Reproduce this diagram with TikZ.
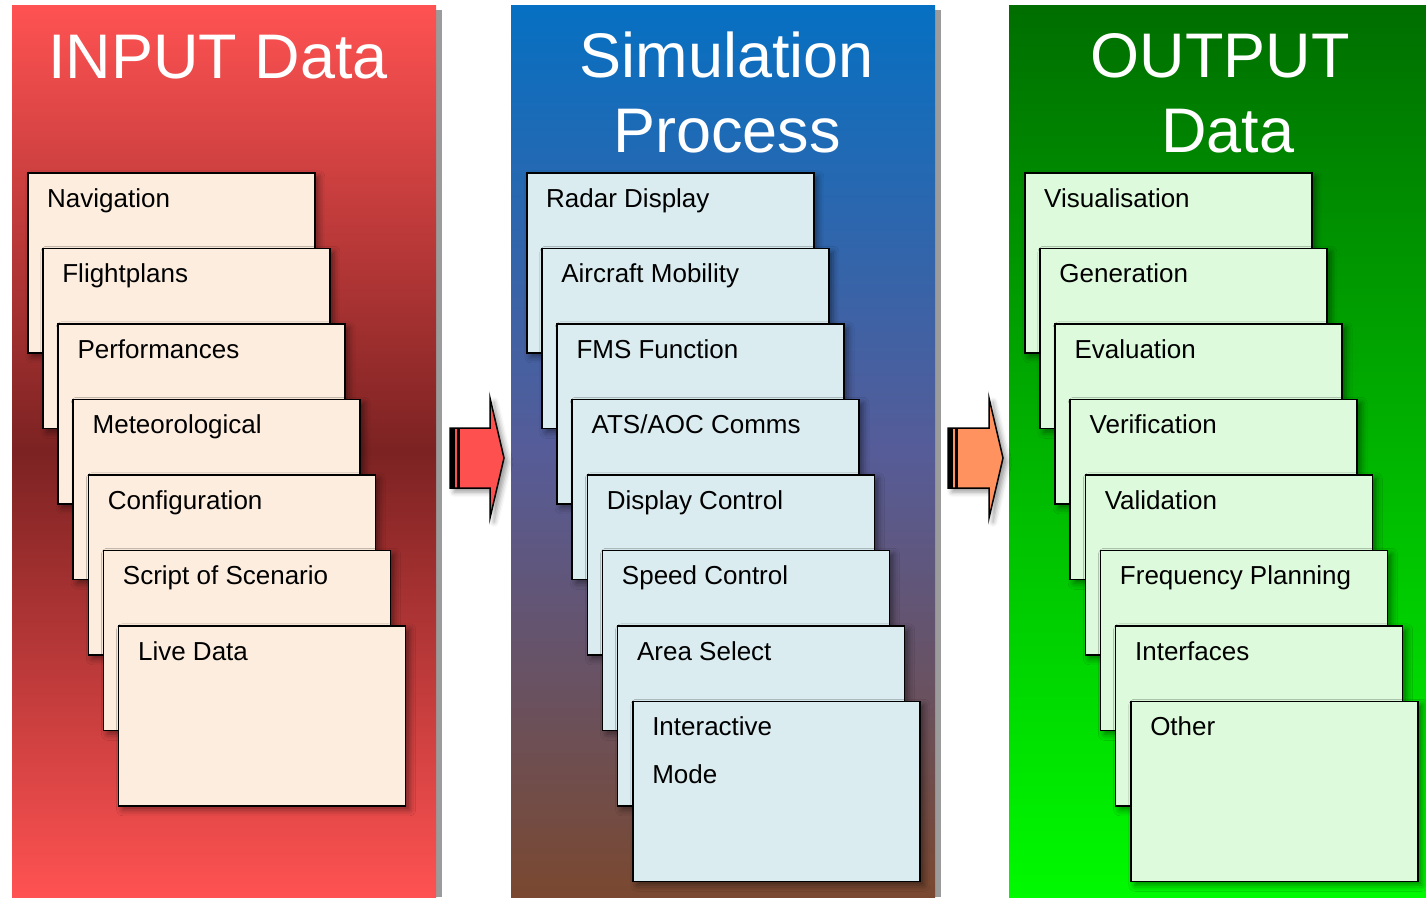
\documentclass[tikz,border=0pt]{standalone}
\usepackage{fontspec}
\setmainfont{Liberation Sans}
\usepackage{tikz}
\usetikzlibrary{shadows.blur}

\definecolor{inputtop}{RGB}{255,82,82}
\definecolor{inputmid}{RGB}{124,34,34}
\definecolor{simtop}{RGB}{6,112,194}
\definecolor{simmid}{RGB}{86,92,152}
\definecolor{simbottom}{RGB}{122,72,48}
\definecolor{outtop}{RGB}{0,110,0}
\definecolor{outbottom}{RGB}{0,250,0}
\definecolor{incardfill}{RGB}{253,237,222}
\definecolor{simcardfill}{RGB}{218,236,240}
\definecolor{outcardfill}{RGB}{221,250,221}
\definecolor{inarrowfill}{RGB}{255,80,80}
\definecolor{outarrowfill}{RGB}{255,146,94}
\definecolor{panelshade}{RGB}{155,155,155}

\tikzset{
  card/.style={draw=black, line width=1.5pt, minimum width=287pt, minimum height=180pt,
    anchor=north west, inner sep=0pt,
    blur shadow={shadow xshift=4pt, shadow yshift=-4pt, shadow blur radius=6pt, shadow opacity=45}},
  cardtext/.style={anchor=base west, inner sep=0pt, text=black, font=\fontsize{26}{30}\selectfont},
  paneltitle/.style={anchor=base, inner sep=0pt, text=white, font=\fontsize{63}{75}\selectfont},
  bigarrow/.style={draw=black, line width=1.5pt, line join=miter,
    blur shadow={shadow xshift=4pt, shadow yshift=-4pt, shadow blur radius=5pt, shadow opacity=40}}
}

\begin{document}
\begin{tikzpicture}[x=1pt, y=-1pt]
    \useasboundingbox (0,0) rectangle (1426,897);

    % Panels
    \fill[panelshade] (436,10) rectangle (442,897);
    \fill[panelshade] (935,10) rectangle (941,897);
    \shade[top color=inputtop, bottom color=inputtop, middle color=inputmid] (12,5) rectangle (436,897);
    \shade[top color=simtop, bottom color=simbottom, middle color=simmid] (511,5) rectangle (935,897);
    \shade[top color=outtop, bottom color=outbottom] (1009,5) rectangle (1426,897);

    % Titles
    \node[paneltitle] (inT) at (218,78) {INPUT Data};
    \node[paneltitle] (simT) at (727,77) {Simulation};
    \node[paneltitle] (simTb) at (727,152) {Process};
    \node[paneltitle] (outT) at (1220,77) {OUTPUT};
    \node[paneltitle] (outTb) at (1228,152) {Data};

    % Input cards
    \foreach \lbl [count=\i from 0] in {Navigation,Flightplans,Performances,Meteorological,Configuration,Script of Scenario,Live Data}{
        \node[card, fill=incardfill] (in\i) at (27+15.15*\i, 172+75.5*\i) {};
        \node[cardtext] (inlbl\i) at ([shift={(20,35)}]in\i.north west) {\lbl};
    }

    % Simulation cards
    \foreach \lbl [count=\i from 0] in {Radar Display,Aircraft Mobility,FMS Function,ATS/AOC Comms,Display Control,Speed Control,Area Select,Interactive}{
        \node[card, fill=simcardfill] (sim\i) at (526+15.15*\i, 172+75.5*\i) {};
        \node[cardtext] (simlbl\i) at ([shift={(20,35)}]sim\i.north west) {\lbl};
    }
    \node[cardtext] (simmode) at ([shift={(0,48)}]simlbl7.base west) {Mode};

    % Output cards
    \foreach \lbl [count=\i from 0] in {Visualisation,Generation,Evaluation,Verification,Validation,Frequency Planning,Interfaces,Other}{
        \node[card, fill=outcardfill] (out\i) at (1024+15.15*\i, 172+75.5*\i) {};
        \node[cardtext] (outlbl\i) at ([shift={(20,35)}]out\i.north west) {\lbl};
    }

    % Arrows
    \draw[bigarrow, fill=inarrowfill] (450,428) -- (490,428) -- (490,398) -- (504,458)
        -- (490,518) -- (490,488) -- (450,488) -- cycle;
    \fill[black] (450,428) rectangle (455,488);
    \fill[black] (456.5,428) rectangle (460,488);
    \draw[bigarrow, fill=outarrowfill] (948,428) -- (989,428) -- (989,398) -- (1003,458)
        -- (989,518) -- (989,488) -- (948,488) -- cycle;
    \fill[black] (948,428) rectangle (953,488);
    \fill[black] (954.5,428) rectangle (958,488);
\end{tikzpicture}
\end{document}
